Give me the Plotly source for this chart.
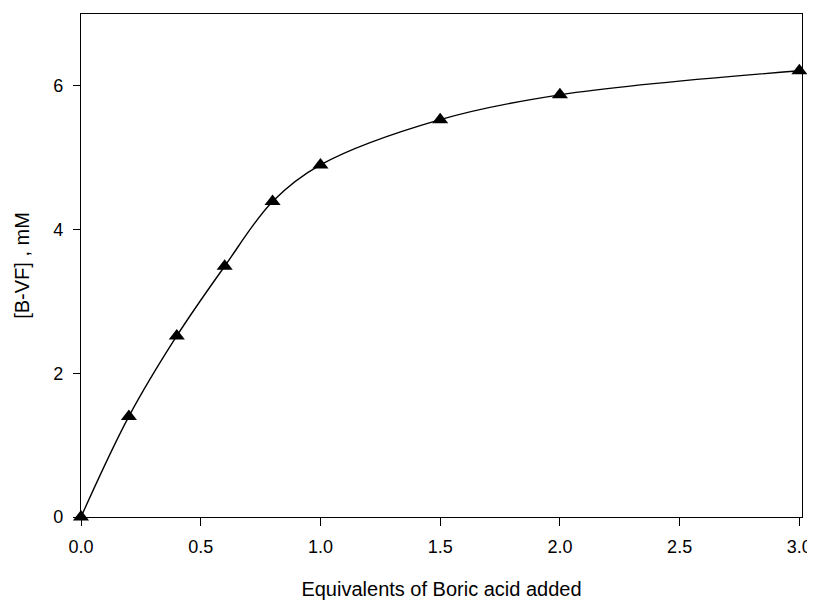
import plotly.graph_objects as go

equivalents = [0.0, 0.2, 0.4, 0.6, 0.8, 1.0, 1.5, 2.0, 3.0]
bvf_mM = [0.0, 1.40, 2.52, 3.49, 4.39, 4.90, 5.53, 5.875, 6.21]

x_ticks = [0.0, 0.5, 1.0, 1.5, 2.0, 2.5, 3.0]
x_ticklabels = ["0.0", "0.5", "1.0", "1.5", "2.0", "2.5", "3.0"]
y_ticks = [0, 2, 4, 6]

fig = go.Figure()
fig.add_trace(go.Scatter(
    x=equivalents, y=bvf_mM, mode="lines+markers",
    line=dict(color="black", width=1.4, shape="spline", smoothing=1.0),
    marker=dict(symbol="triangle-up", size=14, color="black"),
    cliponaxis=False, showlegend=False,
))

font = "Liberation Sans, Arial, sans-serif"
# page body has an 8px margin, so the figure is shrunk to fit the window
fig.update_layout(
    width=807, height=593,
    margin=dict(l=73, r=13, t=6, b=84),
    paper_bgcolor="white", plot_bgcolor="white",
    font=dict(family=font, size=18, color="black"),
    xaxis=dict(
        range=[0, 3.011], tickvals=x_ticks, ticktext=x_ticklabels,
        ticks="outside", ticklen=8, tickwidth=1.2, tickcolor="black",
        showline=True, linecolor="black", linewidth=1.2, mirror=True,
        showgrid=False, zeroline=False, automargin=False,
        tickfont=dict(size=18), ticklabelstandoff=5, ticklabeloverflow="allow",
        title=dict(text="Equivalents of Boric acid added", font=dict(size=20), standoff=26),
    ),
    yaxis=dict(
        range=[0, 7], tickvals=y_ticks,
        ticks="outside", ticklen=7, tickwidth=1.2, tickcolor="black",
        showline=True, linecolor="black", linewidth=1.2, mirror=True,
        showgrid=False, zeroline=False, automargin=False,
        tickfont=dict(size=18), ticklabelstandoff=6, ticklabeloverflow="allow",
        title=dict(text="[B-VF] , mM", font=dict(size=20), standoff=18),
    ),
)

fig.write_html("out.html")
